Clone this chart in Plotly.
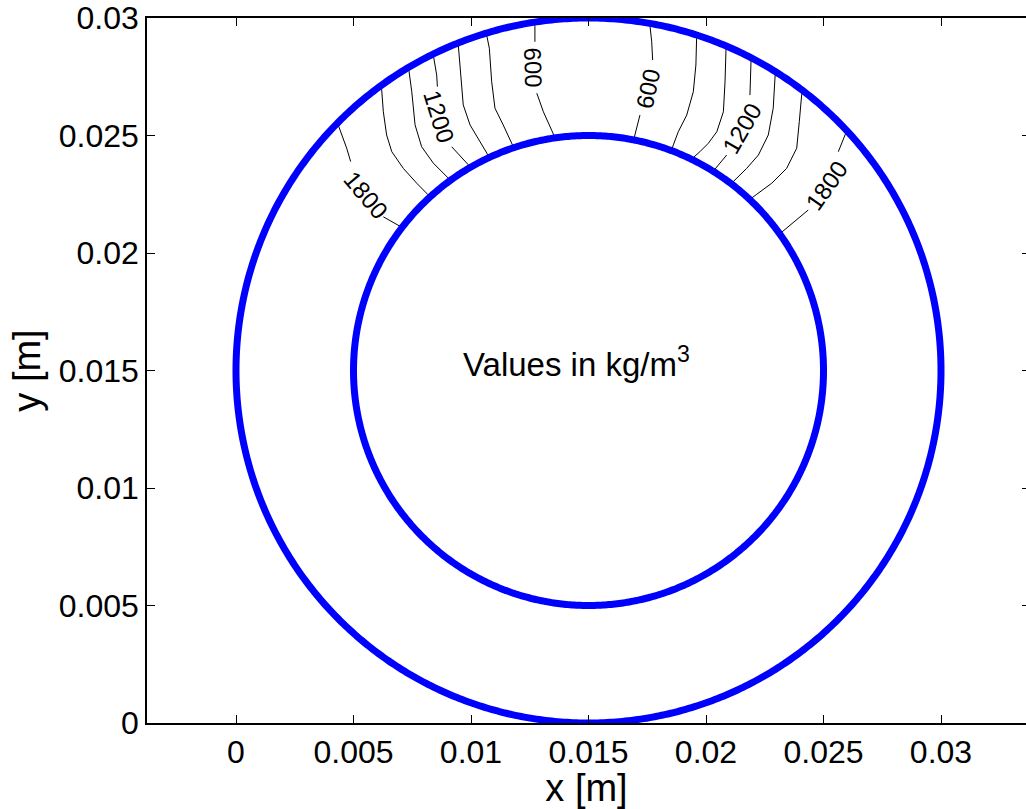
import numpy as np
import plotly.graph_objects as go

MM = 1e-3  # contour points below are read in millimetres

# ---- geometry of the annulus (metres) ----
CENTER_X = 0.015
CENTER_Y = 0.015
RADII = [0.015, 0.010]

# ---- axis ticks ----
X_TICKS = [0, 0.005, 0.01, 0.015, 0.02, 0.025, 0.03]
X_TICK_TEXT = ["0", "0.005", "0.01", "0.015", "0.02", "0.025", "0.03"]
Y_TICKS = [0, 0.005, 0.01, 0.015, 0.02, 0.025, 0.03]
Y_TICK_TEXT = ["0", "0.005", "0.01", "0.015", "0.02", "0.025", "0.03"]

# ---- contour lines (density, kg/m^3), points in mm, None = gap for label ----
LEVELS = [600, 800, 1000, 1200, 1400, 1600, 1800]

LEFT_600 = [(12.70, 29.82), (12.72, 29.63), (12.72, 28.99), None,
            (12.80, 26.80), (13.08, 26.01), (13.43, 25.23), (13.57, 24.92)]
LEFT_800 = [(10.65, 29.36), (10.67, 29.25), (10.78, 28.71), (10.88, 27.29),
            (11.02, 26.16), (11.37, 25.45), (11.73, 24.67), (11.82, 24.48)]
LEFT_1000 = [(9.45, 28.93), (9.46, 28.85), (9.53, 28.00), (9.67, 26.30),
             (9.96, 25.45), (10.31, 24.88), (10.64, 24.31), (10.78, 24.07)]
LEFT_1200 = [(8.39, 28.46), (8.43, 28.21), (8.54, 27.57), (8.57, 27.08), None,
             (9.18, 24.52), (9.82, 23.82), (9.99, 23.64)]
LEFT_1400 = [(7.34, 27.90), (7.37, 27.71), (7.48, 26.86), (7.62, 25.45),
             (7.90, 24.52), (8.40, 23.82), (9.03, 23.18), (9.13, 23.09)]
LEFT_1600 = [(6.17, 27.11), (6.20, 26.94), (6.27, 26.01), (6.41, 25.02),
             (6.63, 24.31), (7.12, 23.60), (7.69, 22.97), (8.18, 22.47), (8.26, 22.39)]
LEFT_1800 = [(4.33, 25.50), (4.43, 25.23), (4.71, 24.46), (4.88, 23.89), None,
             (6.27, 21.54), (7.01, 21.12), (7.06, 21.09)]

RIGHT_600 = [(17.62, 29.77), (17.62, 29.63), (17.69, 28.99), (17.73, 28.21), None,
             (17.19, 25.87), (17.02, 25.23), (16.92, 24.81)]
RIGHT_800 = [(19.61, 29.27), (19.60, 29.14), (19.57, 28.00), (19.46, 26.86),
              (19.18, 25.87), (18.82, 25.16), (18.61, 24.60), (18.52, 24.35)]
RIGHT_1000 = [(20.86, 28.80), (20.85, 28.64), (20.81, 27.29), (20.74, 26.01),
              (20.46, 25.16), (20.10, 24.67), (19.74, 24.31), (19.38, 23.99)]
RIGHT_1200 = [(21.92, 28.30), (21.91, 28.07), (21.87, 26.72), None,
              (20.88, 24.17), (20.52, 23.74), (20.30, 23.47)]
RIGHT_1400 = [(22.95, 27.70), (22.94, 27.50), (22.86, 26.16), (22.65, 25.02),
              (22.23, 24.17), (21.73, 23.60), (21.37, 23.25), (21.07, 22.95)]
RIGHT_1600 = [(24.10, 26.90), (24.07, 26.72), (23.97, 25.59), (23.86, 24.46),
              (23.43, 23.60), (22.80, 22.97), (22.16, 22.50), (21.85, 22.27)]
RIGHT_1800 = [(26.00, 25.23), (25.91, 25.02), (25.63, 24.31), None,
              (24.35, 21.83), (23.50, 21.12), (23.12, 20.80)]

LEFT_LINES = [LEFT_600, LEFT_800, LEFT_1000, LEFT_1200, LEFT_1400, LEFT_1600, LEFT_1800]
RIGHT_LINES = [RIGHT_600, RIGHT_800, RIGHT_1000, RIGHT_1200, RIGHT_1400, RIGHT_1600, RIGHT_1800]

# ---- contour labels (mm) ----
LABEL_TEXT = ["600", "1200", "1800", "600", "1200", "1800"]
LABEL_X = [12.64, 8.63, 5.50, 17.54, 21.54, 25.14]
LABEL_Y = [27.89, 25.80, 22.47, 27.00, 25.28, 22.87]
LABEL_ANGLE = [88, 73, 50, -78, -60, -55]

NOTE_TEXT = "Values in kg/m<sup>3</sup>"
NOTE_X = 14.51
NOTE_Y = 15.36

FONT = "Liberation Sans, Arial, Helvetica, sans-serif"


def split_xy(points):
    xs, ys = [], []
    for p in points:
        if p is None:
            xs.append(None)
            ys.append(None)
        else:
            xs.append(p[0] * MM)
            ys.append(p[1] * MM)
    return xs, ys


fig = go.Figure()

for level, left, right in zip(LEVELS, LEFT_LINES, RIGHT_LINES):
    for pts in (left, right):
        xs, ys = split_xy(pts)
        fig.add_trace(go.Scatter(x=xs, y=ys, mode="lines",
                                 line=dict(color="black", width=1),
                                 name=str(level), showlegend=False,
                                 hoverinfo="skip", connectgaps=False))

theta = np.linspace(0, 2 * np.pi, 721)
for r in RADII:
    fig.add_trace(go.Scatter(x=CENTER_X + r * np.cos(theta),
                             y=CENTER_Y + r * np.sin(theta),
                             mode="lines",
                             line=dict(color="#0000ff", width=7, simplify=False),
                             showlegend=False, hoverinfo="skip"))

# empty trace to carry the right-hand tick axis
fig.add_trace(go.Scatter(x=[], y=[], yaxis="y2", showlegend=False, hoverinfo="skip"))

for t, lx, ly, ang in zip(LABEL_TEXT, LABEL_X, LABEL_Y, LABEL_ANGLE):
    fig.add_annotation(x=lx * MM, y=ly * MM, xref="x", yref="y", text=t,
                       textangle=ang, showarrow=False,
                       font=dict(family=FONT, size=24, color="black"))

fig.add_annotation(x=NOTE_X * MM, y=NOTE_Y * MM, xref="x", yref="y", text=NOTE_TEXT,
                   showarrow=False, font=dict(family=FONT, size=33, color="black"))

EPS = 1e-8
X_RANGE = [-0.0037872, 0.0336170]
Y_RANGE = [0 - EPS, 0.03 + EPS]

fig.update_layout(
    width=1026, height=809,
    margin=dict(l=147, r=0, t=18, b=86),
    paper_bgcolor="white", plot_bgcolor="white",
    font=dict(family=FONT, size=32, color="black"),
    xaxis=dict(range=X_RANGE, tickvals=X_TICKS, ticktext=X_TICK_TEXT,
               showgrid=False, zeroline=False, showline=True, linecolor="black",
               linewidth=1.5, mirror="ticks", ticks="inside", ticklen=8,
               tickwidth=1, tickcolor="black", ticklabeloverflow="allow",
               automargin=False,
               title=dict(text="x [m]", standoff=2)),
    yaxis=dict(range=Y_RANGE, tickvals=Y_TICKS, ticktext=Y_TICK_TEXT,
               showgrid=False, zeroline=False, showline=True, linecolor="black",
               linewidth=1.5, mirror=False, ticks="inside", ticklen=8,
               tickwidth=1, tickcolor="black", ticklabeloverflow="allow",
               automargin=False,
               title=dict(text="y [m]", standoff=6)),
    yaxis2=dict(range=Y_RANGE, tickvals=Y_TICKS, overlaying="y", side="right",
                showgrid=False, zeroline=False, showline=False,
                showticklabels=False, ticks="inside", ticklen=4,
                tickwidth=1, tickcolor="black", automargin=False),
)

# remove the browser's default 8 px page margin so the figure fills the window
fig.write_html("out.html", config={"displayModeBar": False},
               post_script="document.body.style.margin='0';")
